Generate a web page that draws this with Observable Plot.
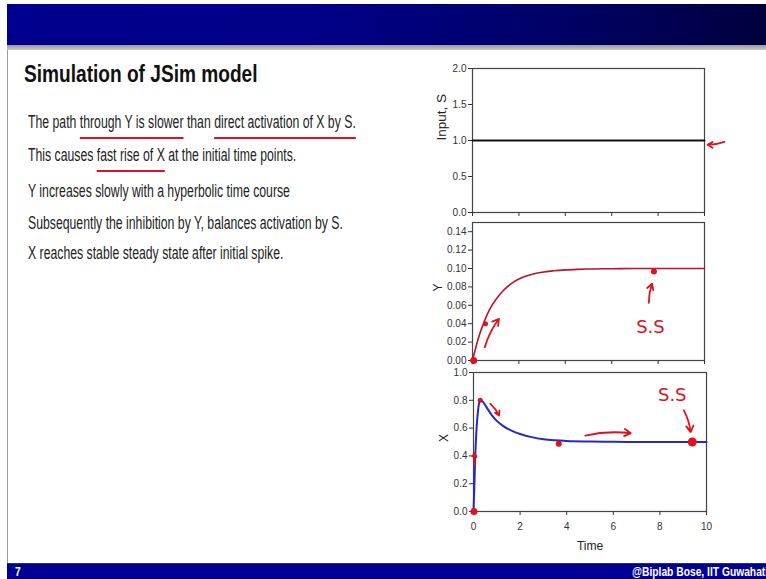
<!DOCTYPE html>
<html>
<head>
<meta charset="utf-8">
<script src="https://cdn.jsdelivr.net/npm/d3@7"></script>
<script src="https://cdn.jsdelivr.net/npm/@observablehq/plot@0.6"></script>
<style>
  html, body { margin: 0; padding: 0; background: #fff; }
  #slide { position: relative; width: 766px; height: 579px; overflow: hidden; background: #fff; font-family: "Liberation Sans", Arial, sans-serif; }
  .abs { position: absolute; }
  .topbar { left: 7px; top: 4px; width: 759px; height: 41px; background: linear-gradient(to right, #00008e 0%, #000088 40%, #00006a 70%, #00003e 100%); }
  .shadow { left: 7px; top: 45px; width: 759px; height: 5px; background: linear-gradient(to bottom, #9a9aa6, #c8c8cc); }
  .leftline { left: 7px; top: 50px; width: 1px; height: 513px; background: #9a9a9a; }
  .title { left: 24px; top: 63px; font-weight: bold; font-size: 23.3px; color: #111; white-space: nowrap; line-height: 1; transform: scaleX(0.82); transform-origin: 0 0; }
  .bullet { left: 28px; font-size: 17.5px; color: #222; white-space: nowrap; line-height: 1; transform: scaleX(0.70); transform-origin: 0 0; }
  .ul { text-decoration: underline; text-decoration-color: #d8102a; text-decoration-thickness: 1.6px; text-underline-offset: 9px; }
  .bottombar { left: 7px; top: 563px; width: 759px; height: 16px; background: #000094; border-top: 1px solid #333; }
  .foot { color: #fff; font-weight: bold; font-size: 13px; white-space: nowrap; line-height: 1; transform: scaleX(0.79); transform-origin: 0 0; }
</style>
</head>
<body>
<div id="slide">
  <div class="abs topbar"></div>
  <div class="abs shadow"></div>
  <div class="abs leftline"></div>
  <div class="abs title">Simulation of JSim model</div>
  <div id="bullets"></div>
  <div id="p1" class="abs" style="left:420px; top:60px;"></div>
  <div id="p2" class="abs" style="left:420px; top:218px;"></div>
  <div id="p3" class="abs" style="left:420px; top:366px;"></div>
  <div class="abs bottombar"></div>
  <div class="abs foot" style="left:15px; top:565px;">7</div>
  <div class="abs foot" style="left:632px; top:565px;">@Biplab Bose, IIT Guwahati</div>
</div>
<script>
// ---------- data ----------
const bulletLines = [
  'The path <span class="ul">through Y is slower</span> than <span class="ul">direct activation of X by S.</span>',
  'This causes <span class="ul">fast rise of X</span> at the initial time points.',
  'Y increases slowly with a hyperbolic time course',
  'Subsequently the inhibition by Y, balances activation by S.',
  'X reaches stable steady state after initial spike.'
];
const bulletTops = [114, 147, 183, 215, 245];

const timeTicks = [0, 2, 4, 6, 8, 10];

const timeS = [0, 10];
const inputS = [1, 1];
const ticksS = [0, 0.5, 1, 1.5, 2];

const timeY = [0, 0.25, 0.5, 0.75, 1, 1.25, 1.5, 1.75, 2, 2.25, 2.5, 2.75, 3, 3.5, 4, 4.5, 5, 6, 7, 8, 9, 10];
const valueY = [0, 0.024, 0.042, 0.056, 0.066, 0.074, 0.080, 0.085, 0.0885, 0.0912, 0.0932, 0.0948, 0.096, 0.0975, 0.0985, 0.0991, 0.0995, 0.0998, 0.1, 0.1, 0.1, 0.1];
const ticksY = [0, 0.02, 0.04, 0.06, 0.08, 0.10, 0.12, 0.14];

const timeX = [0, 0.03, 0.07, 0.1, 0.14, 0.18, 0.22, 0.26, 0.3, 0.35, 0.4, 0.5, 0.6, 0.8, 1.0, 1.25, 1.5, 1.75, 2, 2.5, 3, 3.5, 4, 5, 6, 7, 8, 9, 10];
const valueX = [0, 0.14, 0.37, 0.5, 0.62, 0.7, 0.76, 0.79, 0.80, 0.798, 0.79, 0.766, 0.74, 0.69, 0.652, 0.618, 0.592, 0.573, 0.558, 0.535, 0.52, 0.512, 0.507, 0.503, 0.501, 0.5, 0.5, 0.5, 0.5];
const ticksX = [0, 0.2, 0.4, 0.6, 0.8, 1.0];

// hand-drawn red annotations (data coordinates of each panel)
const annArrowsS = [{x1: 10.86, y1: 0.98, x2: 10.13, y2: 0.94}];
const annDotsY = [{t: 0.05, v: 0.0, r: 3.5}, {t: 0.56, v: 0.040, r: 2.5}, {t: 7.82, v: 0.0967, r: 3}];
const annArrowsY = [{x1: 0.53, y1: 0.0145, x2: 1.14, y2: 0.0453}, {x1: 7.6, y1: 0.0627, x2: 7.74, y2: 0.0834}];
const annTextY = [{t: 7.67, v: 0.036, label: "S.S"}];
const annDotsX = [{t: 0.02, v: 0.0, r: 3.5}, {t: 0.29, v: 0.8, r: 2.5}, {t: 3.66, v: 0.487, r: 3}, {t: 9.39, v: 0.5, r: 4.5}];
const annArrowsX = [{x1: 0.06, y1: 0.33, x2: 0.06, y2: 0.42}, {x1: 0.72, y1: 0.776, x2: 1.1, y2: 0.69}, {x1: 4.8, y1: 0.546, x2: 6.75, y2: 0.563}, {x1: 9.03, y1: 0.728, x2: 9.32, y2: 0.571}];
const annTextX = [{t: 8.53, v: 0.836, label: "S.S"}];

// ---------- text ----------
const bl = document.getElementById("bullets");
bulletLines.forEach((h, i) => {
  const d = document.createElement("div");
  d.className = "abs bullet";
  d.style.top = bulletTops[i] + "px";
  d.innerHTML = h;
  bl.appendChild(d);
});

// ---------- charts ----------
const red = "#e0101e";
const fontFam = '"Liberation Sans", Arial, sans-serif';
const baseStyle = {fontFamily: fontFam, fontSize: "10px", color: "#333", background: "transparent", overflow: "visible"};

function annotMarks(arrows, dots, texts) {
  const m = [];
  if (arrows) m.push(Plot.arrow(arrows, {x1: "x1", y1: "y1", x2: "x2", y2: "y2", stroke: red, strokeWidth: 1.8, headLength: 6, bend: 10}));
  if (dots) m.push(Plot.dot(dots, {x: "t", y: "v", r: "r", fill: red, stroke: "none"}));
  if (texts) m.push(Plot.text(texts, {x: "t", y: "v", text: "label", fill: red, fontSize: 18, fontFamily: '"DejaVu Sans", sans-serif'}));
  return m;
}

const p1 = Plot.plot({
  width: 346, height: 158,
  marginLeft: 52, marginRight: 62, marginTop: 8, marginBottom: 6,
  style: baseStyle,
  x: {domain: [0, 10], type: "linear"},
  y: {domain: [0, 2], type: "linear"},
  r: {type: "identity"},
  marks: [
    Plot.frame({stroke: "#444", strokeWidth: 1.2}),
    Plot.axisY({ticks: ticksS, tickFormat: d3.format(".1f"), tickSize: 4, tickPadding: 2, label: null}),
    Plot.axisX({ticks: timeTicks, tickFormat: () => "", tickSize: 4, label: null}),
    Plot.text(["Input, S"], {frameAnchor: "left", rotate: -90, dx: -31, fontSize: 13.5, fill: "#222"}),
    Plot.line(timeS.map((t, i) => ({t, v: inputS[i]})), {x: "t", y: "v", stroke: "#111", strokeWidth: 2}),
    ...annotMarks(annArrowsS, null, null)
  ]
});
document.getElementById("p1").appendChild(p1);

const p2 = Plot.plot({
  width: 346, height: 148,
  marginLeft: 52, marginRight: 62, marginTop: 4, marginBottom: 6,
  style: baseStyle,
  x: {domain: [0, 10], type: "linear"},
  y: {domain: [0, 0.15], type: "linear"},
  r: {type: "identity"},
  marks: [
    Plot.frame({stroke: "#444", strokeWidth: 1.2}),
    Plot.axisY({ticks: ticksY, tickFormat: d3.format(".2f"), tickSize: 4, tickPadding: 2, label: null}),
    Plot.axisX({ticks: timeTicks, tickFormat: () => "", tickSize: 4, label: null}),
    Plot.text(["Y"], {frameAnchor: "left", rotate: -90, dx: -34, fontSize: 12, fill: "#222"}),
    Plot.line(timeY.map((t, i) => ({t, v: valueY[i]})), {x: "t", y: "v", stroke: "#c0102a", strokeWidth: 1.6, curve: "monotone-x"}),
    ...annotMarks(annArrowsY, annDotsY, annTextY)
  ]
});
document.getElementById("p2").appendChild(p2);

const p3 = Plot.plot({
  width: 346, height: 185,
  marginLeft: 53, marginRight: 60, marginTop: 6, marginBottom: 40,
  style: baseStyle,
  x: {domain: [0, 10], type: "linear"},
  y: {domain: [0, 1], type: "linear"},
  r: {type: "identity"},
  marks: [
    Plot.frame({stroke: "#444", strokeWidth: 1.2}),
    Plot.axisY({ticks: ticksX, tickFormat: d3.format(".1f"), tickSize: 4, tickPadding: 2, label: null}),
    Plot.axisX({ticks: timeTicks, tickFormat: d3.format("d"), tickSize: 4, tickPadding: 7, label: null}),
    Plot.text(["X"], {frameAnchor: "left", rotate: -90, dx: -29, fontSize: 12, fill: "#222"}),
    Plot.text(["Time"], {frameAnchor: "bottom", dy: 38, fontSize: 12, fill: "#222"}),
    Plot.line(timeX.map((t, i) => ({t, v: valueX[i]})), {x: "t", y: "v", stroke: "#2828c8", strokeWidth: 2, curve: "monotone-x"}),
    ...annotMarks(annArrowsX, annDotsX, annTextX)
  ]
});
document.getElementById("p3").appendChild(p3);
</script>
</body>
</html>
